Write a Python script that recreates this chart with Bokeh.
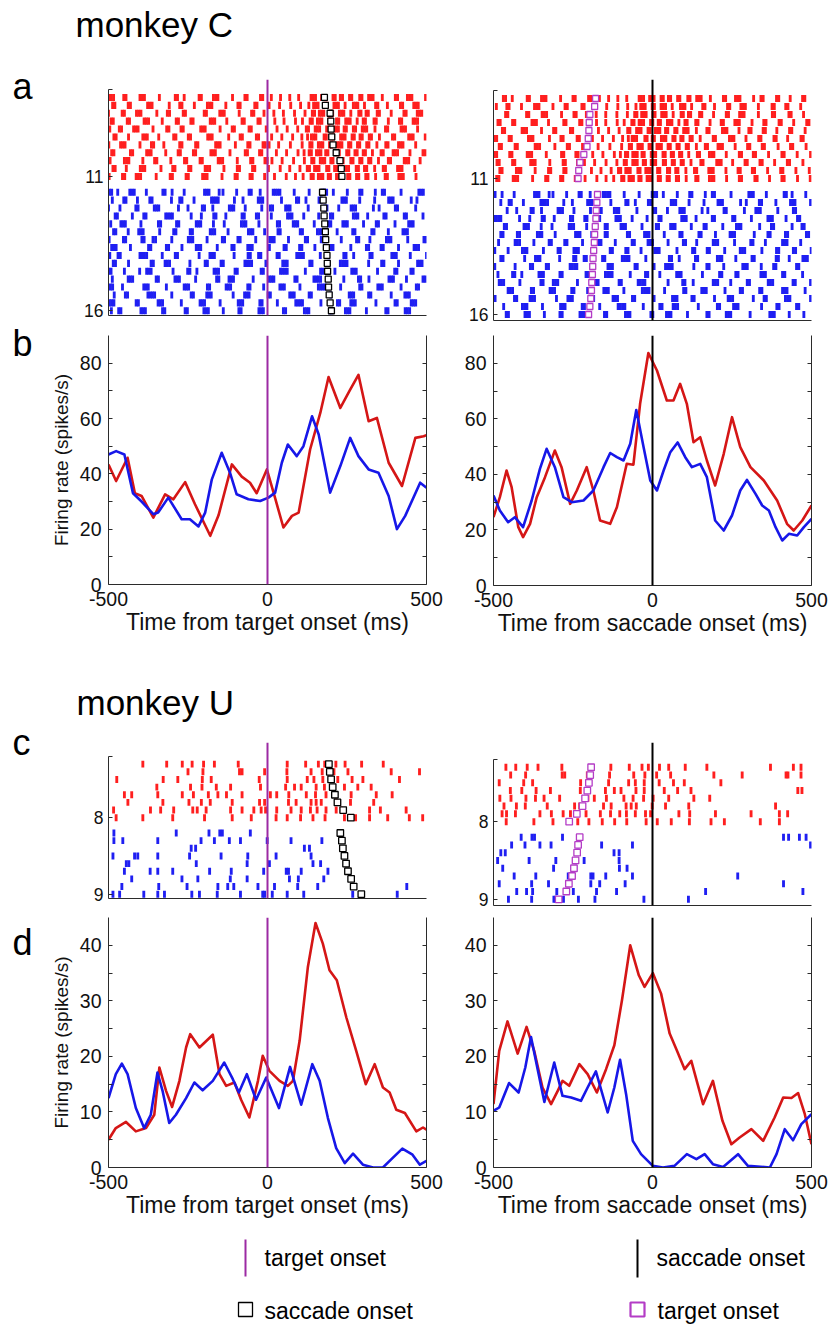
from bokeh.plotting import figure
from bokeh.layouts import row, column
from bokeh.models import Range1d, FixedTicker, Span, LinearAxis, ColumnDataSource
from bokeh.embed import file_html
from bokeh.resources import INLINE
from bokeh.core.properties import value

# ---------------------------------------------------------------- data
# reaction times (saccade onset relative to target onset, ms), one per trial
c_red_rt = [179, 182, 197, 199, 200, 202, 206, 216, 228, 232, 234]
c_blue_rt = [173, 175, 177, 178, 180, 182, 183, 185, 187, 188, 189, 191, 192, 194, 197, 201]
u_red_rt = [193, 196, 200, 205, 212, 220, 238, 262]
u_blue_rt = [229, 234, 237, 242, 247, 253, 263, 271, 295]

# spike times relative to target onset (ms), one list per trial
c_red_spikes = [
    [-498,-491,-484,-452,-445,-401,-394,-387,-340,-290,-283,-262,-215,-208,-170,-163,-156,-110,-71,-64,-22,-15,12,41,70,98,137,144,151,170,177,184,206,213,229,236,258,265,290,297,318,325,332,361,402,409,440,447,454,497,520,527,569,576,612,651,658,700,735],
    [-487,-480,-438,-431,-377,-370,-363,-309,-276,-269,-230,-189,-182,-175,-131,-93,-86,-40,-33,5,38,73,104,130,145,152,159,181,188,209,216,223,244,270,277,284,305,340,347,377,418,425,460,467,474,515,558,565,601,608,648,692,699,738],
    [-500,-457,-450,-412,-405,-398,-348,-315,-308,-265,-258,-199,-192,-150,-143,-136,-89,-50,-43,-11,20,50,85,118,141,148,163,170,177,198,205,226,233,240,262,287,294,310,317,345,352,389,429,436,471,478,485,530,574,581,626,633,672,712,719],
    [-492,-485,-441,-434,-388,-381,-374,-331,-287,-280,-241,-234,-180,-173,-166,-128,-80,-73,-30,-23,23,52,88,110,134,141,157,164,171,193,200,217,224,246,253,260,282,301,308,335,342,380,415,422,458,465,472,512,549,556,597,604,643,684,691,735],
    [-496,-466,-459,-421,-414,-407,-360,-317,-310,-272,-265,-210,-203,-196,-149,-111,-104,-58,-51,-4,30,62,95,122,129,150,157,164,186,193,209,216,223,241,248,270,277,298,305,312,338,371,378,420,427,434,472,503,510,548,555,591,631,638,680,724],
    [-483,-476,-437,-392,-385,-378,-342,-295,-288,-249,-242,-188,-181,-174,-122,-86,-79,-35,-28,13,45,79,108,126,138,145,152,178,185,201,208,230,237,244,266,273,291,298,320,327,352,393,400,444,451,458,496,536,543,584,591,627,669,676,716],
    [-499,-462,-455,-448,-401,-365,-358,-326,-276,-269,-226,-219,-163,-156,-149,-101,-62,-55,-14,-7,5,35,72,109,133,140,160,167,174,195,202,220,227,234,255,262,283,290,312,319,344,372,379,412,419,426,466,505,512,551,558,601,640,647,689,728],
    [-490,-483,-431,-424,-380,-373,-366,-320,-281,-274,-233,-226,-178,-171,-164,-118,-70,-63,-25,-18,28,60,96,115,131,138,154,161,168,183,190,212,219,226,249,256,275,282,301,308,330,357,364,395,402,409,448,489,496,533,540,581,623,630,671,713,720],
    [-495,-450,-443,-436,-392,-355,-348,-304,-261,-254,-212,-205,-155,-148,-141,-95,-53,-46,-8,-1,14,46,82,116,139,146,166,173,180,199,206,224,231,238,262,269,290,297,318,325,349,380,387,430,437,444,480,519,526,566,573,612,652,659,701,741],
    [-486,-479,-444,-400,-393,-386,-335,-298,-291,-248,-241,-196,-189,-182,-137,-95,-88,-47,-40,3,40,70,102,125,132,148,155,162,186,193,211,218,225,248,255,279,286,305,312,337,364,371,409,416,423,463,501,508,546,553,594,635,642,683,725],
    [-498,-456,-449,-413,-406,-399,-350,-306,-299,-256,-249,-204,-197,-190,-143,-102,-95,-55,-48,-9,22,59,88,112,137,144,160,167,174,191,198,217,224,231,252,259,280,287,309,316,340,370,377,413,420,427,467,507,514,556,563,602,641,648,690,730,741],
]
c_blue_spikes = [
    [-497,-490,-471,-433,-426,-419,-381,-329,-322,-300,-262,-198,-191,-184,-152,-140,-97,-58,-51,-23,18,25,32,39,84,131,172,179,186,207,251,290,297,339,361,368,420,476,483,490,531,587,594,612,655,689],
    [-488,-452,-445,-409,-370,-363,-302,-276,-269,-231,-176,-169,-162,-155,-104,-77,-29,-22,-15,44,91,98,121,162,169,234,241,248,290,337,381,388,395,452,470,511,518,563,609,616,623,672,700],
    [-500,-464,-414,-407,-356,-349,-342,-280,-250,-205,-198,-172,-120,-113,-106,-70,-18,9,16,57,64,71,128,180,187,224,263,270,277,333,351,402,409,466,502,509,516,571,620,627,690],
    [-479,-472,-425,-389,-382,-320,-313,-306,-299,-240,-208,-169,-162,-131,-80,-73,-35,-28,12,63,70,77,114,161,198,205,270,277,284,315,366,373,430,437,489,541,548,555,598,634,641,699],
    [-493,-461,-454,-447,-398,-343,-336,-286,-279,-224,-217,-210,-170,-136,-82,-75,-68,-27,31,38,81,88,95,147,192,199,237,244,251,302,342,349,401,444,451,458,517,554,561,619,650,657],
    [-484,-477,-438,-405,-398,-391,-339,-295,-288,-243,-236,-180,-173,-166,-124,-60,-53,-46,-9,33,40,103,110,157,164,171,219,268,275,328,335,380,426,433,440,502,545,552,600,607,666,673],
    [-498,-453,-446,-395,-388,-360,-352,-301,-249,-242,-235,-190,-142,-135,-93,-86,-37,7,14,21,66,119,126,169,176,183,232,280,287,322,374,381,388,441,492,499,538,592,599,606,649,693],
    [-490,-483,-476,-431,-374,-367,-318,-311,-269,-224,-217,-210,-158,-112,-105,-62,-55,-48,6,52,59,101,108,149,192,199,206,262,311,318,357,364,412,461,468,475,529,575,582,628,635,684],
    [-496,-470,-463,-401,-394,-387,-380,-331,-290,-283,-215,-181,-174,-167,-105,-61,-54,-28,-21,30,37,92,99,106,113,166,240,247,271,322,329,391,398,405,449,500,507,576,583,617,660,667,674],
    [-485,-478,-437,-366,-359,-322,-315,-308,-244,-196,-189,-146,-139,-71,-64,-57,-50,-5,48,55,62,133,140,193,229,236,243,250,318,359,366,412,472,479,486,530,569,576,641,648,690],
    [-499,-492,-450,-402,-380,-373,-366,-297,-251,-244,-222,-168,-161,-154,-102,-95,-20,-13,41,48,55,62,119,167,174,212,265,272,279,346,400,407,451,458,530,537,544,598,605,661,700],
    [-488,-438,-431,-424,-350,-343,-291,-284,-277,-226,-160,-153,-121,-114,-107,-45,6,13,20,86,93,146,153,160,167,240,286,293,319,382,389,396,437,489,496,555,562,569,633,640,688],
    [-494,-487,-456,-389,-382,-375,-318,-262,-255,-248,-189,-182,-130,-123,-116,-62,-55,-12,39,46,53,102,160,167,174,181,230,290,297,347,354,361,420,468,475,529,536,601,608,615,672],
    [-482,-447,-440,-376,-369,-362,-355,-301,-240,-233,-191,-184,-177,-108,-72,-65,-58,2,9,70,77,84,131,138,199,257,264,271,318,325,389,432,439,446,511,545,552,612,619,626,691],
    [-497,-490,-483,-413,-406,-344,-337,-330,-271,-212,-205,-198,-149,-92,-85,-78,-24,-17,31,89,96,103,110,168,220,227,262,269,276,341,401,408,452,459,466,540,588,595,650,657,699],
    [-491,-468,-461,-398,-391,-384,-330,-323,-259,-252,-200,-193,-186,-139,-90,-83,-27,-20,-13,50,57,116,123,130,196,202,245,252,259,311,372,379,433,440,447,508,570,577,584,631,677],
]
u_red_spikes = [
    [-392,-317,-268,-237,-201,-167,-92,62,120,160,180,215,244,296,364,564,636,660],
    [-250,-203,-88,-80,-9,61,137,172,209,253,389,478,616,622,663],
    [-474,-328,-282,-205,-177,-26,62,125,146,174,221,266,300,415],
    [-348,-242,-206,-161,-116,-22,57,85,106,153,179,242,284,326,662,675],
    [-450,-427,-345,-268,-233,-186,-156,-129,-80,9,29,67,122,151,184,214,263,342,392],
    [-439,-329,-247,-208,-180,-111,-25,-9,66,90,137,153,169,219,261,334,607],
    [-484,-368,-336,-295,-235,-221,-193,-116,-80,-43,-20,-6,29,74,106,135,156,184,216,232,321,355,436,548,637,663],
    [-476,-392,-298,-198,-111,-51,27,62,104,143,181,242,277,321,378,446,488,601,661],
]
u_blue_spikes = [
    [-483,-287,-184,-150,-142,-54,641,657,691,712],
    [-483,-455,-345,-209,-167,-120,-85,-1,74,171,731],
    [-240,-226,116,132],
    [-486,-418,-408,-345,-245,-146,-62,27,137],
    [-444,-436,-224,-64,6,143,167],
    [-450,-369,-345,-298,-182,-114,-12,59,66,106,190,521],
    [-427,-269,-219,-117,-64,69,97,177,675],
    [-458,-342,-253,-156,-125,-106,-30,22,95,158,438,744],
    [-486,-465,-389,-345,-324,-238,-214,-158,-85,-15,-9,15,62,114,268,408],
]

# firing-rate curves (spikes/s)
c_tgt_t_red = [-500,-476,-440,-417,-396,-359,-322,-296,-259,-228,-180,-154,-112,-81,-55,-34,-2,22,50,77,98,134,166,192,229,260,286,318,344,381,423,465,491,500]
c_tgt_red = [43.4,37.4,45.8,33,32,24.2,32.6,30.8,37,29,17.6,25,43.4,39,36.8,33,41.6,32,20.6,24.8,26,48.8,62,75,63.8,70.4,75.8,59,60.2,44,35.6,53,53.6,54]
c_tgt_t_blue = [-500,-476,-450,-423,-396,-359,-344,-312,-270,-244,-217,-196,-175,-144,-118,-97,-60,-23,3,24,45,64,92,113,140,161,197,229,260,286,318,349,381,407,433,480,500]
c_tgt_blue = [47,48.2,47,33,30,25.4,26,31.4,23.6,23.6,21,26,38,47.6,40.4,32.6,30.8,30.2,31.4,33.2,44,50.6,46.4,50,60.8,54.2,33.2,42.8,53,46.4,41.6,40.4,32,20,24.8,36.8,35]
c_sac_t_red = [-500,-480,-459,-443,-422,-407,-385,-364,-338,-307,-286,-259,-238,-207,-186,-165,-133,-112,-81,-60,-39,-13,14,45,66,87,108,129,150,171,197,224,250,276,308,350,392,423,444,471,500]
c_sac_red = [24.6,31.8,41.4,35.4,21,17.4,22.2,31.8,39,48.6,42.6,29.4,34.2,42.6,34.2,23.4,22.2,28.2,43.8,43.5,65.4,83.7,77.4,66.6,66.6,72.6,65.4,51.6,53.4,45,36,47.4,60.6,49.8,42.6,37.8,30.6,22.2,19.8,23.4,28.8]
c_sac_t_blue = [-500,-480,-454,-433,-407,-380,-354,-333,-307,-280,-254,-217,-186,-154,-133,-112,-91,-70,-51,-28,-7,14,35,56,79,103,124,150,171,197,224,250,276,297,324,345,366,387,408,429,455,476,500]
c_sac_blue = [32.4,27,22.8,24.6,21,30.6,42,49.2,42.6,31.8,30,30.6,34.2,42.6,47.7,46.2,45,51,63.2,49.8,37.8,34.2,41.4,48,51.5,46.2,42.6,43.8,39,23.4,19.8,25.2,34.2,38,33,28.8,27,21,16.2,18.6,18,21,24]
u_tgt_t_red = [-500,-477,-445,-414,-382,-356,-340,-319,-300,-277,-256,-243,-214,-172,-151,-130,-104,-83,-57,-30,-15,6,38,64,80,101,127,151,174,195,218,248,279,309,337,363,384,405,432,468,489,500]
u_tgt_red = [5,7.1,8.2,6.5,7.1,9.5,18,13.8,10.9,15.6,21.6,24,21.6,23.9,16.8,14.7,15.3,12.2,9,15.6,20.1,17.4,15.6,14.7,15.6,22.8,36.1,44,40.3,35.5,33.7,27,21,15,18.6,14.4,13.5,10.4,9.8,6.5,7.2,6.8]
u_tgt_t_blue = [-500,-477,-458,-440,-414,-388,-367,-346,-330,-309,-288,-256,-230,-204,-172,-136,-109,-90,-65,-36,-4,36,71,106,141,164,190,216,243,269,300,332,363,393,424,456,479,500]
u_tgt_blue = [12.5,16.8,18.7,16.8,10.7,7.1,9.5,17.1,13.8,8,9.5,12.5,15.3,13.9,15.6,18.9,15.9,13.5,16.8,12.2,16.2,10.7,18.1,11.3,18.6,15.6,8.9,3.5,0.8,2.5,0.5,0,0,1.7,3.4,2.3,0.5,1.2]
u_sac_t_red = [-500,-482,-456,-424,-396,-372,-346,-319,-298,-283,-262,-230,-204,-175,-146,-120,-96,-70,-43,-25,1,27,54,77,101,122,159,190,220,248,274,311,348,384,411,437,458,479,500]
u_sac_red = [11.4,21,26.3,20.5,25.3,21,14.4,11.4,13.8,15.6,14.7,18.6,16.8,13.5,17.7,22,30.1,40,34.6,32.5,35,31.3,24.1,21,17.7,19.2,11.4,15.6,8.4,4.2,5.4,6.9,4.8,9,12.6,12.5,13.4,9.6,4.2]
u_sac_t_blue = [-500,-482,-451,-421,-400,-382,-358,-340,-309,-283,-256,-225,-204,-178,-141,-120,-102,-83,-62,-36,1,33,69,108,138,164,190,222,269,300,369,390,416,442,468,500]
u_sac_blue = [10.2,10.8,15.2,13.5,18,23.5,16.8,11.8,18.9,12.9,12.6,12,14.4,17.3,9.9,14.4,19.4,13.2,4.8,2.4,0.3,0,0.3,2.4,1.5,2.4,0.6,0.1,2.4,0.3,0,2.4,6.9,4.9,7.8,9.6]

x_ticks = [-500, 0, 500]
c_rate_ticks = [0, 20, 40, 60, 80]
c_rate_minor = [10, 30, 50, 70]
u_rate_ticks = [0, 10, 20, 30, 40]
u_rate_minor = [5, 15, 25, 35]
panel_letters = ["a", "b", "c", "d"]
legend_texts = ["target onset", "saccade onset", "saccade onset", "target onset"]

# ---------------------------------------------------------------- style
FONT = "Liberation Sans"
RED_SPK = "#ff1f1f"
BLUE_SPK = "#1f1ff2"
RED_LINE = "#d51616"
BLUE_LINE = "#1717e8"
PURPLE = "#9c2aa3"
MAGENTA = "#b43cc6"
AX = "#2b2b2b"
TXT = "#111111"
FW = 318
LW = 45            # width of the strip that holds the panel letters
BODY_H = 1226      # height of everything above the legend strip


def base_fig(fh, top, bottom, left, right, xr, yr):
    p = figure(frame_width=FW, frame_height=fh, min_border_top=top, min_border_bottom=bottom,
               min_border_left=left, min_border_right=right, x_range=xr, y_range=yr,
               output_backend="svg", toolbar_location=None, tools="")
    p.xgrid.visible = False
    p.ygrid.visible = False
    p.outline_line_color = None
    p.background_fill_color = "white"
    p.border_fill_color = "white"
    return p


def blank_fig(w, h):
    p = figure(width=w, height=h, x_range=Range1d(0, w), y_range=Range1d(h, 0), min_border=0,
               output_backend="svg", toolbar_location=None, tools="")
    p.axis.visible = False
    p.xgrid.visible = False
    p.ygrid.visible = False
    p.outline_line_color = None
    return p


def text_strip(w, h, xs, ys, txts, size):
    p = blank_fig(w, h)
    p.text(x=xs, y=ys, text=txts, text_font=value(FONT), text_font_size=value(size),
           text_color="black", text_baseline="middle", text_align="left")
    return p


def hide_labels(ax, ticks):
    ax.major_label_overrides = {t: "" for t in ticks}
    ax.major_label_text_font_size = "0px"
    ax.major_label_standoff = 0


def raster_fig(red_sp, red_rt, blue_sp, blue_rt, blue_row0, to_saccade, y_lo, y_hi,
               lab_red, lab_blue, fh, top, bottom, left, right, msize):
    p = base_fig(fh, top, bottom, left, right, Range1d(-500, 500), Range1d(y_hi, y_lo))
    xs, ys, cols = [], [], []
    mx, my = [], []
    groups = [(red_sp, red_rt, 1, RED_SPK), (blue_sp, blue_rt, blue_row0, BLUE_SPK)]
    for spikes, rts, r0, col in groups:
        for k, (trial, rt) in enumerate(zip(spikes, rts)):
            yy = r0 + k
            off = rt if to_saccade else 0
            for s in trial:
                t = s - off
                if -500 <= t <= 500:
                    xs.append(t)
                    ys.append(yy)
                    cols.append(col)
            mx.append(-rt if to_saccade else rt)
            my.append(yy)
    src = ColumnDataSource(dict(x=xs, y=ys, c=cols))
    p.rect(x="x", y="y", width=9, height=0.9, fill_color="c", line_color=None, source=src)
    line_col = "black" if to_saccade else PURPLE
    p.add_layout(Span(location=0, dimension="height", line_color=line_col, line_width=2))
    mcol = MAGENTA if to_saccade else "black"
    p.scatter(mx, my, marker="square", size=msize, line_color=mcol, fill_color="white",
              line_width=1.3)
    last = blue_row0 + len(blue_sp) - 1
    ya = p.yaxis[0]
    ya.ticker = FixedTicker(ticks=[0, len(red_sp), last])
    ya.major_label_overrides = {0: "", len(red_sp): lab_red, last: lab_blue}
    ya.bounds = (0, y_hi)
    ya.major_tick_in = 4
    ya.major_tick_out = 0
    ya.minor_tick_line_color = None
    ya.major_label_standoff = 5
    ya.major_label_text_font = FONT
    ya.major_label_text_font_size = "17.5px"
    ya.major_label_text_color = TXT
    ya.axis_line_color = AX
    ya.major_tick_line_color = AX
    xa = p.xaxis[0]
    xa.ticker = FixedTicker(ticks=[])
    xa.major_tick_line_color = None
    xa.minor_tick_line_color = None
    xa.major_tick_out = 0
    xa.major_tick_in = 0
    hide_labels(xa, [])
    xa.axis_line_color = AX
    return p


def psth_fig(tr, vr, tb, vb, ymax, ticks, minor, to_saccade, xlabel, ylabel,
             fh, top, bottom, left, right):
    p = base_fig(fh, top, bottom, left, right, Range1d(-500, 500), Range1d(0, ymax))
    p.add_layout(Span(location=0, dimension="height",
                      line_color="black" if to_saccade else PURPLE, line_width=2))
    p.line(tr, vr, line_color=RED_LINE, line_width=2.6, line_join="round")
    p.line(tb, vb, line_color=BLUE_LINE, line_width=2.6, line_join="round")
    xa = p.xaxis[0]
    xa.ticker = FixedTicker(ticks=x_ticks)
    xa.major_label_overrides = {t: str(t) for t in x_ticks}
    xa.major_tick_in = 0
    xa.major_tick_out = 0
    xa.minor_tick_line_color = None
    xa.major_label_standoff = 7
    xa.major_label_text_font = FONT
    xa.major_label_text_font_size = "19.5px"
    xa.major_label_text_color = TXT
    xa.axis_label = xlabel
    xa.axis_label_text_font = FONT
    xa.axis_label_text_font_size = "23px"
    xa.axis_label_text_font_style = "normal"
    xa.axis_label_text_color = TXT
    xa.axis_label_standoff = 0
    xa.axis_line_color = AX
    ya = p.yaxis[0]
    ya.ticker = FixedTicker(ticks=ticks, minor_ticks=minor)
    ya.major_label_overrides = {t: str(t) for t in ticks}
    ya.major_tick_in = 4
    ya.major_tick_out = 0
    ya.minor_tick_in = 4
    ya.minor_tick_out = 0
    ya.major_label_standoff = 7
    ya.major_label_text_font = FONT
    ya.major_label_text_font_size = "19.5px"
    ya.major_label_text_color = TXT
    ya.axis_line_color = AX
    ya.major_tick_line_color = AX
    ya.minor_tick_line_color = AX
    if ylabel:
        ya.axis_label = ylabel
        ya.axis_label_text_font = FONT
        ya.axis_label_text_font_size = "19px"
        ya.axis_label_text_font_style = "normal"
        ya.axis_label_text_color = TXT
        ya.axis_label_standoff = 5
    ra = LinearAxis(ticker=FixedTicker(ticks=ticks, minor_ticks=minor))
    hide_labels(ra, ticks)
    ra.major_tick_in = 4
    ra.major_tick_out = 0
    ra.minor_tick_in = 4
    ra.minor_tick_out = 0
    ra.axis_line_color = AX
    ra.major_tick_line_color = AX
    ra.minor_tick_line_color = AX
    p.add_layout(ra, "right")
    return p


# ---------------------------------------------------------------- panels
LB = 108 - LW   # left border of the left-hand panels
RW = 835 - LW   # width of the panel area right of the letter strip

# one tall strip on the left holds the four panel letters (page coordinates)
letters = text_strip(LW, BODY_H, [12, 12, 12, 12], [86, 343, 742, 942], panel_letters, "36px")

head_c = text_strip(RW, 60, [75 - LW], [24], ["monkey C"], "35px")

# row a (60..325)
a_l = raster_fig(c_red_spikes, c_red_rt, c_blue_spikes, c_blue_rt, 13, False, -1.27, 28.6,
                 "11", "16", 236, 19, 10, LB, 20, 6)
a_r = raster_fig(c_red_spikes, c_red_rt, c_blue_spikes, c_blue_rt, 13, True, -1.375, 28.75,
                 "11", "16", 241, 15, 9, 47, 24, 6)

# row b (325..642)
b_l = psth_fig(c_tgt_t_red, c_tgt_red, c_tgt_t_blue, c_tgt_blue, 90, c_rate_ticks, c_rate_minor,
               False, "Time from target onset (ms)", "Firing rate (spikes/s)", 249, 8, 60, LB, 20)
b_r = psth_fig(c_sac_t_red, c_sac_red, c_sac_t_blue, c_sac_blue, 90, c_rate_ticks, c_rate_minor,
               True, "Time from saccade onset (ms)", None, 250, 10, 57, 47, 24)

head_u = text_strip(RW, 84, [76 - LW], [60], ["monkey U"], "35px")

# row c (726..912)
c_l = raster_fig(u_red_spikes, u_red_rt, u_blue_spikes, u_blue_rt, 10, False, -1.83, 18.56,
                 "8", "9", 156, 16, 14, LB, 20, 6.5)
c_r = raster_fig(u_red_spikes, u_red_rt, u_blue_spikes, u_blue_rt, 10, True, -2.19, 18.8,
                 "8", "9", 163, 12, 11, 47, 24, 6.5)

# row d (912..1226)
d_l = psth_fig(u_tgt_t_red, u_tgt_red, u_tgt_t_blue, u_tgt_blue, 45, u_rate_ticks, u_rate_minor,
               False, "Time from target onset (ms)", "Firing rate (spikes/s)", 250, 4, 60, LB, 20)
d_r = psth_fig(u_sac_t_red, u_sac_red, u_sac_t_blue, u_sac_blue, 45, u_rate_ticks, u_rate_minor,
               True, "Time from saccade onset (ms)", None, 250, 5, 59, 47, 24)

# legend strip (1226..1325)
leg = blank_fig(835, 99)
leg.segment(x0=[245], y0=[13], x1=[245], y1=[50], line_color=PURPLE, line_width=2)
leg.segment(x0=[637], y0=[13], x1=[637], y1=[51], line_color="black", line_width=2)
leg.scatter([245], [83], marker="square", size=14, line_color="black",
            fill_color="white", line_width=1.3)
leg.scatter([637], [83], marker="square", size=14, line_color=MAGENTA,
            fill_color="white", line_width=2.2)
leg.text(x=[264, 656, 264, 657], y=[31, 31, 84, 84], text=legend_texts,
         text_font=value(FONT), text_font_size=value("23px"), text_color="black",
         text_baseline="middle", text_align="left")

panels = column(head_c, row(a_l, a_r), row(b_l, b_r), head_u, row(c_l, c_r), row(d_l, d_r))
layout = column(row(letters, panels), leg)

open("out.html", "w").write(file_html(layout, INLINE))
